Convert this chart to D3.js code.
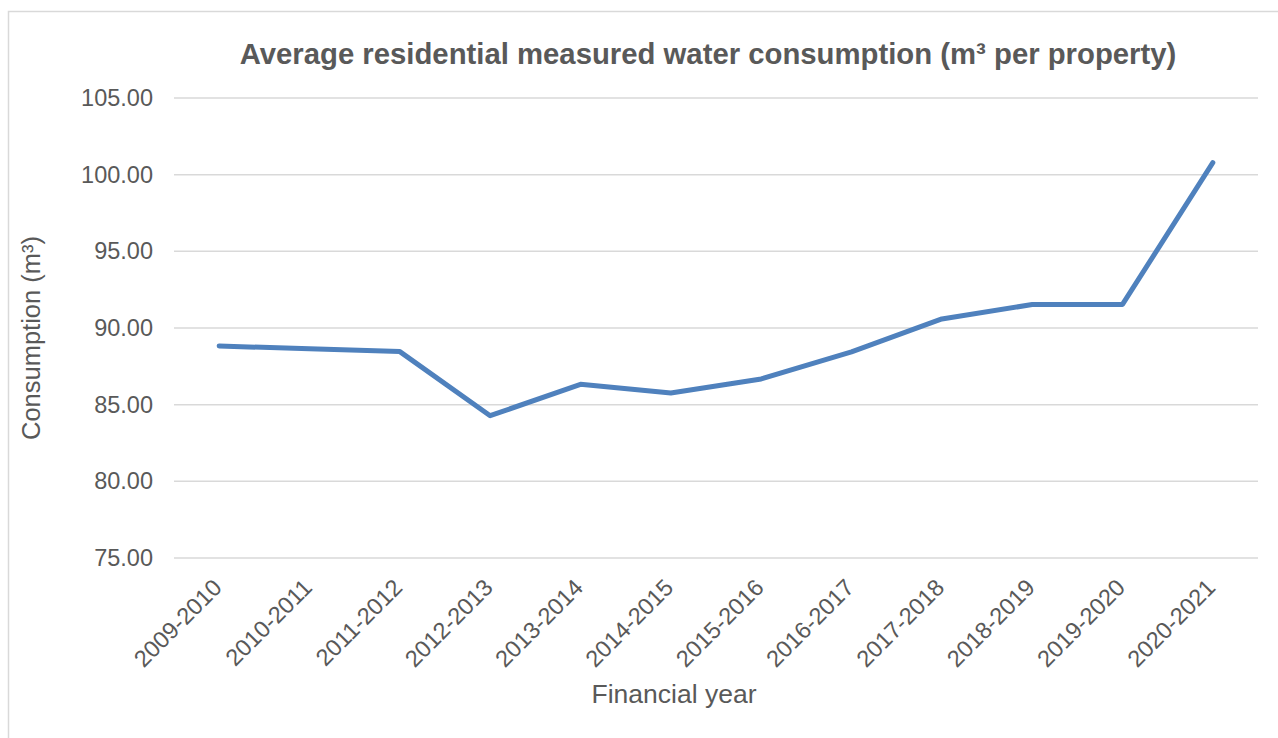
<!DOCTYPE html>
<html>
<head>
<meta charset="utf-8">
<script src="https://cdn.jsdelivr.net/npm/d3@7"></script>
<style>
  body { margin: 0; background: #fff; }
  text { font-family: "Liberation Sans", Arial, sans-serif; fill: #595959; }
</style>
</head>
<body>
<div id="chart"></div>
<script>
const years = ["2009-2010", "2010-2011", "2011-2012", "2012-2013", "2013-2014", "2014-2015",
  "2015-2016", "2016-2017", "2017-2018", "2018-2019", "2019-2020", "2020-2021"];
const consumption = [88.83, 88.64, 88.46, 84.28, 86.33, 85.76, 86.68, 88.44, 90.59, 91.53, 91.54, 100.78];
const yTicks = [75, 80, 85, 90, 95, 100, 105];

const W = 1278, H = 738;
const margin = { top: 98, right: 20, bottom: 180, left: 174 };
const width = 1258 - margin.left;
const height = 558 - margin.top;

const svg = d3.select("#chart").append("svg")
  .attr("width", W).attr("height", H);

// chart frame
svg.append("rect")
  .attr("x", 8.5).attr("y", 11.5)
  .attr("width", W + 10).attr("height", H + 10)
  .attr("fill", "none").attr("stroke", "#d9d9d9").attr("stroke-width", 1.5);

const g = svg.append("g").attr("transform", `translate(${margin.left},${margin.top})`);

const x = d3.scaleBand().domain(years).range([0, width]);
const y = d3.scaleLinear().domain([75, 105]).range([height, 0]);

// gridlines
g.selectAll("line.grid").data(yTicks).enter().append("line")
  .attr("class", "grid")
  .attr("x1", 0).attr("x2", width)
  .attr("y1", d => y(d)).attr("y2", d => y(d))
  .attr("stroke", "#d9d9d9").attr("stroke-width", 1.5);

// y axis labels
const yAxis = g.append("g").call(d3.axisLeft(y).tickValues(yTicks).tickFormat(d3.format(".2f")).tickSize(0).tickPadding(21));
yAxis.select(".domain").remove();
yAxis.selectAll("text").style("font-size", "23.5px").attr("fill", "#595959");

// x axis labels
const xAxis = g.append("g").attr("transform", `translate(0,${height})`)
  .call(d3.axisBottom(x).tickSize(0));
xAxis.select(".domain").remove();
xAxis.selectAll("text")
  .style("font-size", "23.5px").attr("fill", "#595959")
  .attr("text-anchor", "end")
  .attr("y", 0).attr("dy", 0)
  .attr("transform", "translate(4,31) rotate(-45)");

// line
const line = d3.line()
  .x((d, i) => x(years[i]) + x.bandwidth() / 2)
  .y(d => y(d));

g.append("path")
  .datum(consumption)
  .attr("fill", "none")
  .attr("stroke", "#4f81bd")
  .attr("stroke-width", 5)
  .attr("stroke-linecap", "round")
  .attr("stroke-linejoin", "round")
  .attr("d", line);

// titles
svg.append("text")
  .attr("x", 708).attr("y", 64)
  .attr("text-anchor", "middle")
  .style("font-size", "29.3px").style("font-weight", "bold")
  .text("Average residential measured water consumption (m³ per property)");

svg.append("text")
  .attr("x", 674).attr("y", 703)
  .attr("text-anchor", "middle")
  .style("font-size", "26.5px")
  .text("Financial year");

svg.append("text")
  .attr("transform", "translate(40,338) rotate(-90)")
  .attr("text-anchor", "middle")
  .style("font-size", "25.5px")
  .text("Consumption (m³)");
</script>
</body>
</html>
